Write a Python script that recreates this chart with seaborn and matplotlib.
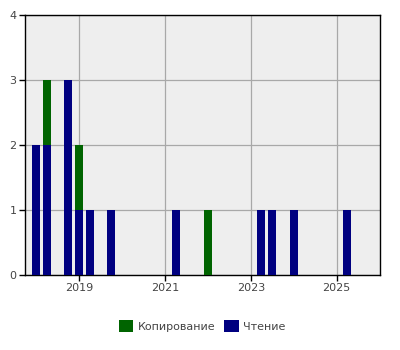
import matplotlib
matplotlib.use("Agg")
import matplotlib.pyplot as plt
import seaborn as sns
import pandas as pd

# Data (quarterly bins)
periods = ["2018-01-01", "2018-04-01", "2018-10-01", "2019-01-01", "2019-04-01",
           "2019-10-01", "2021-04-01", "2022-01-01", "2023-04-01", "2023-07-01",
           "2024-01-01", "2025-04-01"]
reading = [2, 2, 3, 1, 1, 1, 1, 0, 1, 1, 1, 1]   # Чтение
copying = [0, 1, 0, 1, 0, 0, 0, 1, 0, 0, 0, 0]   # Копирование
series_names = ["Копирование", "Чтение"]
tick_years = ["2019", "2021", "2023", "2025"]

df = pd.DataFrame({"period": pd.to_datetime(periods),
                   "Чтение": reading, "Копирование": copying})

sns.set_style("whitegrid")
plt.rcParams["font.family"] = ["DejaVu Sans"]

fig = plt.figure(figsize=(4, 3.5), dpi=100)
ax = fig.add_axes([0.0625, 0.214, 0.8875, 0.743])
ax.set_facecolor("#eeeeee")

width = 68  # days
ax.bar(df["period"], df["Чтение"], width=width, color="#000080", label="Чтение",
       linewidth=0, edgecolor="none", zorder=3)
ax.bar(df["period"], df["Копирование"], width=width, bottom=df["Чтение"],
       color="#006400", label="Копирование", linewidth=0, edgecolor="none", zorder=3)

ax.set_xlim(pd.Timestamp("2017-09-27"), pd.Timestamp("2026-01-05"))
ax.set_ylim(0, 4)
ax.set_yticks([0, 1, 2, 3, 4])
ax.set_xticks([pd.Timestamp(f"{y}-01-01") for y in tick_years])
ax.set_xticklabels(tick_years)

ax.grid(True, color="#a8a8a8", linewidth=0.9, zorder=0)
for s in ax.spines.values():
    s.set_color("black")
    s.set_linewidth(1)
    s.set_visible(True)
ax.tick_params(axis="both", which="major", length=4, width=1, color="black",
               labelsize=8, labelcolor="#444444", direction="out", pad=2,
               bottom=True, left=True)

handles, labels = ax.get_legend_handles_labels()
order = [labels.index(n) for n in series_names]
fig.legend([handles[i] for i in order], [labels[i] for i in order],
           loc="center", bbox_to_anchor=(0.505, 0.068), ncol=2, frameon=False,
           fontsize=8, handlelength=1.3, handleheight=1.3, handletextpad=0.4,
           columnspacing=0.8, labelcolor="#444444")

fig.savefig("out.png", dpi=100)
